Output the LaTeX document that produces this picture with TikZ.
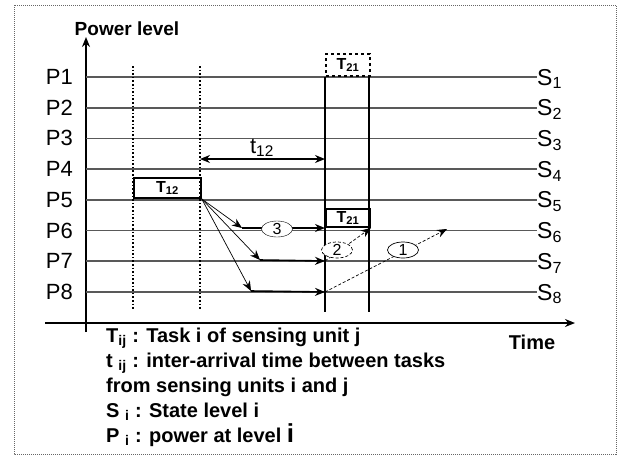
\documentclass[tikz,border=0pt]{standalone}
\usepackage{fontspec}
\setmainfont{Liberation Sans}
\usetikzlibrary{arrows.meta, calc, positioning, shapes.geometric}

\tikzset{
  level/.style={draw=black!65, line width=1.8pt},
  task/.style={draw, line width=1.8pt, inner sep=0pt, minimum width=44pt, font=\bfseries\fontsize{16}{16}\selectfont},
  tag/.style={draw, ellipse, fill=white, inner sep=0pt, minimum width=31pt, minimum height=16pt, font=\fontsize{16}{16}\selectfont},
}

\begin{document}
\begin{tikzpicture}[x=1pt, y=-1pt, >={Stealth[length=10pt, width=8pt]}, every node/.style={font=\fontsize{22}{22}\selectfont}]
  \useasboundingbox (0,0) rectangle (618,456);
  \draw[densely dotted, black!60, line width=1pt] (14,5) rectangle (616,454);

  % axes
  \coordinate (yfoot) at (86,332);
  \coordinate (ytop) at (86,37);
  \coordinate (xleft) at (45,323);
  \coordinate (xright) at (575,323);
  \draw[->, line width=1.8pt] (yfoot) -- (ytop);
  \draw[->, line width=1.8pt] (xleft) -- (xright);
  \node[font=\bfseries\fontsize{19}{19}\selectfont] (powerlbl) at (127,29) {Power level};
  \node[font=\bfseries\fontsize{20}{20}\selectfont] (timelbl) at (532,342) {Time};

  % power levels and states
  \foreach \i in {1,...,8} {
    \pgfmathsetmacro\yy{77+(\i-1)*30.71}
    \coordinate (l\i) at (86,\yy);
    \node[anchor=east, inner sep=0pt] (p\i) at (73,\yy) {P\i};
    \node[anchor=west, inner sep=0pt, font=\fontsize{23}{23}\selectfont] (s\i) at (537,\yy+2) {S\textsubscript{\i}};
    \draw[level] (l\i) -- (l\i -| s\i.west);
  }

  % time marks
  \draw[dotted, line width=1.6pt] (133,66) -- (133,310);
  \draw[dotted, line width=1.6pt] (200,66) -- (200,310);
  \draw[line width=1.6pt] (325,77) -- (325,312);
  \draw[line width=1.6pt] (369,77) -- (369,312);

  % tasks
  \node[task, dashed, minimum height=22pt, anchor=south west] (t21top) at (325,77) {T\textsubscript{21}};
  \node[task, minimum width=67pt, minimum height=20pt, anchor=south west] (t12) at (133,199) {T\textsubscript{12}};
  \node[task, minimum height=18pt, anchor=south west] (t21) at (325,228) {T\textsubscript{21}};

  % inter-arrival time
  \coordinate (ta) at (200,159);
  \coordinate (tb) at (325,159);
  \draw[<->, line width=1.6pt] (ta) -- (tb);
  \node (t12lbl) at (262,148) {t\textsubscript{12}};

  % transitions
  \coordinate (a6) at (242,228);
  \coordinate (a7) at (260,260);
  \coordinate (a8) at (251,291);
  \coordinate (c6) at (325,228);
  \coordinate (c7) at (325,261);
  \coordinate (c8) at (325,292);
  \coordinate (e1) at (447,229);
  \draw[->, line width=0.7pt] (t12.south east) -- (a6);
  \draw[->, line width=0.7pt] (t12.south east) -- (a7);
  \draw[->, line width=0.7pt] (t12.south east) -- (a8);
  \draw[->, line width=1.6pt] (a6) -- (c6);
  \draw[->, line width=1.6pt] (a7) -- (c7);
  \draw[->, line width=1.6pt] (a8) -- (c8);
  \node[tag] (n3) at (277,229) {3};

  \draw[->, densely dashed, line width=0.7pt] (c7) -- (t21.south east);
  \node[tag, densely dashed, line width=0.7pt] (n2) at (337,250) {2};
  \draw[->, densely dashed, line width=0.7pt] (c8) -- (e1);
  \node[tag, line width=0.7pt] (n1) at (403,250) {1};

  % legend
  \node[anchor=north west, align=left, inner sep=0pt, font=\bfseries\fontsize{20}{25}\selectfont] (legend) at (106,328)
    {T\textsubscript{ij} : Task i of sensing unit j\\
     t \textsubscript{ij} : inter-arrival time between tasks\\
     from sensing units i and j\\
     S \textsubscript{i} : State level i\\
     P \textsubscript{i} : power at level {\fontsize{26}{26}\selectfont i}};
\end{tikzpicture}
\end{document}
